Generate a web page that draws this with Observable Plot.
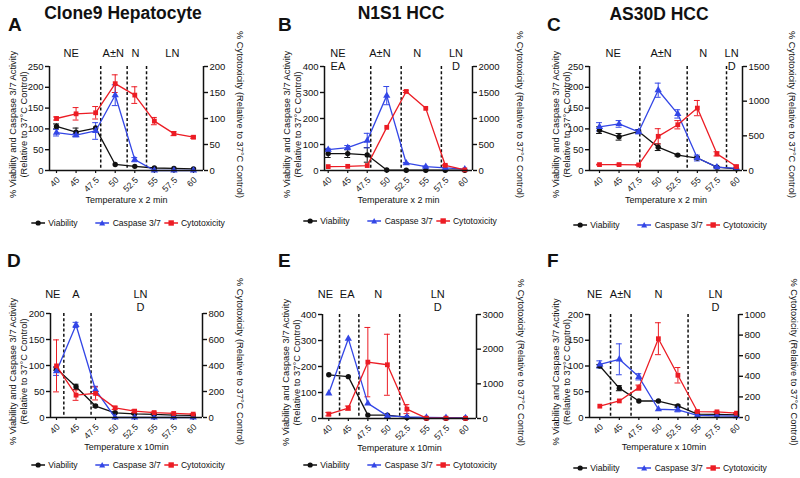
<!DOCTYPE html>
<html><head><meta charset="utf-8">
<script src="https://cdn.jsdelivr.net/npm/d3@7"></script>
<script src="https://cdn.jsdelivr.net/npm/@observablehq/plot@0.6"></script>
<style>
body{margin:0;background:#fff}
#fig{position:relative;width:800px;height:478px;overflow:hidden;font-family:"Liberation Sans",Arial,Helvetica,sans-serif;color:#111;background:#fff}
.abs{position:absolute;white-space:nowrap;line-height:1}
.letter{font-weight:bold;font-size:19px}
.title{font-weight:bold;font-size:17.5px;transform:translateX(-50%)}
.legend{display:flex;align-items:center;font-size:8.6px;height:10px;transform:translateX(-50%)}
.legend svg{margin-right:3px}
</style></head><body><div id="fig"></div>
<script>
// ---------- data ----------
const temps = ["40", "45", "47.5", "50", "52.5", "55", "57.5", "60"];
const seriesNames = ["Viability", "Caspase 3/7", "Cytotoxicity"];
const panelLetters = ["A", "B", "C", "D", "E", "F"];
const panelTitles = ["Clone9 Hepatocyte", "N1S1 HCC", "AS30D HCC", "", "", ""];
const xTitles = ["Temperature x 2 min", "Temperature x 2 min", "Temperature x 2 min",
                 "Temperature x 10min", "Temperature x 10min", "Temperature x 10min"];
const leftLabel = "% Viability and Caspase 3/7 Activity\n(Relative to 37°C Control)";
const rightLabel = "% Cytotoxicity (Relative to 37°C Control)";

// Panel A
const aViab = [106, 92, 102, 14.5, 10, 6, 5, 4];
const aViabErr = [6, 10, 0, 0, 0, 0, 0, 0];
const aCasp = [91, 85, 95, 181, 26, 0, 0, 0];
const aCaspErr = [8, 4, 20, 25, 5, 0, 0, 0];
const aCyto = [100, 109, 111, 167, 145, 95, 71, 64];
const aCytoErr = [3, 12, 12, 17, 16, 7, 4, 2];
const aLeftTicks = [0, 50, 100, 150, 200, 250];
const aRightTicks = [0, 50, 100, 150, 200];
const aDividers = [2.26, 3.61, 4.6];
const aRegions = ["NE", "A±N", "N", "LN"];
const aRegionPos = [0.75, 2.9, 4.03, 5.92];

// Panel B
const bViab = [65, 65, 60, 2, 1, 1, 1, 1];
const bViabErr = [15, 15, 28, 0, 0, 0, 0, 0];
const bCasp = [80, 88, 115, 288, 28, 15, 10, 5];
const bCaspErr = [5, 8, 28, 35, 3, 2, 0, 0];
const bCyto = [75, 80, 95, 830, 1520, 1195, 100, 12];
const bCytoErr = [0, 0, 0, 0, 20, 0, 10, 0];
const bLeftTicks = [0, 100, 200, 300, 400];
const bRightTicks = [0, 500, 1000, 1500, 2000];
const bDividers = [2.18, 3.74, 5.8];
const bRegions = ["NE\nEA", "A±N", "N", "LN\nD"];
const bRegionPos = [0.5, 2.65, 4.56, 6.55];

// Panel C
const cViab = [97, 81, 94, 56, 37, 30, 8, 4];
const cViabErr = [8, 8, 4, 8, 2, 3, 1, 1];
const cCasp = [105, 112, 93, 193, 136, 30, 8, 5];
const cCaspErr = [10, 8, 5, 17, 10, 7, 2, 1];
const cCyto = [85, 85, 80, 493, 660, 900, 240, 57];
const cCytoErr = [5, 5, 5, 110, 60, 110, 30, 10];
const cLeftTicks = [0, 50, 100, 150, 200, 250];
const cRightTicks = [0, 500, 1000, 1500];
const cDividers = [2.06, 4.48, 6.49];
const cRegions = ["NE", "A±N", "N", "LN\nD"];
const cRegionPos = [0.7, 3.15, 5.3, 6.75];

// Panel D
const dViab = [94, 59, 22, 9, 7, 6, 4.5, 4];
const dViabErr = [3, 5, 2, 1, 1, 1, 0, 0];
const dCasp = [89, 178, 53, 0, 0, 0, 0, 0];
const dCaspErr = [8, 5, 7, 0, 0, 0, 0, 0];
const dCyto = [397, 172, 185, 74, 49, 38, 31, 26];
const dCytoErr = [200, 40, 50, 12, 10, 5, 3, 3];
const dLeftTicks = [0, 50, 100, 150, 200];
const dRightTicks = [0, 200, 400, 600, 800];
const dDividers = [0.375, 1.77];
const dRegions = ["NE", "A", "LN\nD"];
const dRegionPos = [-0.19, 1.0, 4.3];

// Panel E
const eViab = [168, 161, 13, 13, 4, 1, 1, 1];
const eViabErr = [0, 0, 0, 0, 0, 0, 0, 0];
const eCasp = [97, 307, 58, 10, 6, 4, 3, 2];
const eCaspErr = [0, 0, 0, 0, 0, 0, 0, 0];
const eCyto = [126, 300, 1626, 1550, 270, 10, 8, 5];
const eCytoErr = [50, 60, 1000, 880, 130, 0, 0, 0];
const eLeftTicks = [0, 100, 200, 300, 400];
const eRightTicks = [0, 1000, 2000, 3000];
const eDividers = [0.55, 1.54, 3.63];
const eRegions = ["NE", "EA", "N", "LN\nD"];
const eRegionPos = [-0.17, 0.94, 2.53, 5.58];

// Panel F
const fViab = [100, 57, 32, 32, 22.5, 6.5, 6, 5];
const fViabErr = [3, 5, 0, 0, 2, 0, 0, 0];
const fCasp = [103, 113, 79, 16, 15, 4, 3, 2.5];
const fCaspErr = [7, 30, 6, 0, 4, 0, 0, 0];
const fCyto = [110, 161, 290, 765, 410, 58, 55, 42];
const fCytoErr = [0, 0, 25, 155, 75, 5, 5, 5];
const fLeftTicks = [0, 50, 100, 150, 200];
const fRightTicks = [0, 200, 400, 600, 800, 1000];
const fDividers = [0.55, 1.6, 4.52];
const fRegions = ["NE", "A±N", "N", "LN\nD"];
const fRegionPos = [-0.26, 1.06, 3.0, 5.92];

// ---------- layout ----------
const BLACK = "#111111", BLUE = "#3346e6", RED = "#ec1c24";
const FONT = '"Liberation Sans", Arial, Helvetica, sans-serif';

const panels = [
  {data: [aViab, aViabErr, aCasp, aCaspErr, aCyto, aCytoErr], lt: aLeftTicks, rt: aRightTicks, div: aDividers, reg: aRegions, regPos: aRegionPos,
   ox: 0, svgTop: 30, w: 265, fr: {l: 49, r: 203, t: 66, b: 170}, p40: 56, p60: 193, regDy: -19, llab: 17.5, rlab: 239,
   legCx: 128, legY: 223, letter: [8, 14.5], title: [123, 4.7]},
  {data: [bViab, bViabErr, bCasp, bCaspErr, bCyto, bCytoErr], lt: bLeftTicks, rt: bRightTicks, div: bDividers, reg: bRegions, regPos: bRegionPos,
   ox: 265, svgTop: 30, w: 265, fr: {l: 324, r: 472, t: 66, b: 170}, p40: 327.7, p60: 464.3, regDy: -19, llab: 291, rlab: 519,
   legCx: 400, legY: 221, letter: [278, 14.5], title: [401, 4.7]},
  {data: [cViab, cViabErr, cCasp, cCaspErr, cCyto, cCytoErr], lt: cLeftTicks, rt: cRightTicks, div: cDividers, reg: cRegions, regPos: cRegionPos,
   ox: 530, svgTop: 30, w: 270, fr: {l: 589, r: 742, t: 66, b: 170}, p40: 599, p60: 736, regDy: -19, llab: 560.8, rlab: 791,
   legCx: 670, legY: 225, letter: [547, 14.5], title: [659, 5.5]},
  {data: [dViab, dViabErr, dCasp, dCaspErr, dCyto, dCytoErr], lt: dLeftTicks, rt: dRightTicks, div: dDividers, reg: dRegions, regPos: dRegionPos,
   ox: 0, svgTop: 275, w: 265, fr: {l: 50, r: 202, t: 313, b: 417}, p40: 56, p60: 192.7, regDy: -25, llab: 17.5, rlab: 239,
   legCx: 128, legY: 465, letter: [7, 250.5]},
  {data: [eViab, eViabErr, eCasp, eCaspErr, eCyto, eCytoErr], lt: eLeftTicks, rt: eRightTicks, div: eDividers, reg: eRegions, regPos: eRegionPos,
   ox: 265, svgTop: 275, w: 265, fr: {l: 322, r: 476, t: 314, b: 418}, p40: 328.3, p60: 465, regDy: -26, llab: 290.8, rlab: 520,
   legCx: 400, legY: 465, letter: [278, 250.5]},
  {data: [fViab, fViabErr, fCasp, fCaspErr, fCyto, fCytoErr], lt: fLeftTicks, rt: fRightTicks, div: fDividers, reg: fRegions, regPos: fRegionPos,
   ox: 530, svgTop: 275, w: 270, fr: {l: 589, r: 738, t: 314, b: 417}, p40: 599.3, p60: 736, regDy: -26, llab: 560, rlab: 793,
   legCx: 670, legY: 468, letter: [547, 250.5]}
];

const fig = document.getElementById("fig");
const SVG_H = 180;

function addDiv(cls, html, left, top) {
  const d = document.createElement("div");
  d.className = "abs " + cls;
  d.innerHTML = html;
  d.style.left = left + "px";
  d.style.top = top + "px";
  fig.appendChild(d);
  return d;
}

function swatch(color, symbol) {
  let m;
  if (symbol === "circle") m = `<circle cx="7" cy="4" r="2.6" fill="${color}"/>`;
  else if (symbol === "triangle") m = `<polygon points="7,1 10,6.5 4,6.5" fill="${color}"/>`;
  else m = `<rect x="4.3" y="1.3" width="5.4" height="5.4" fill="${color}"/>`;
  return `<svg width="14" height="8"><line x1="0" y1="4" x2="14" y2="4" stroke="${color}" stroke-width="1.3"/>${m}</svg>`;
}

panels.forEach((c, pi) => {
  const fr = c.fr;
  const u = (c.p60 - c.p40) / 7;
  const xmin = -(c.p40 - fr.l) / u, xmax = 7 + (fr.r - c.p60) / u;
  const lmax = c.lt[c.lt.length - 1], rmax = c.rt[c.rt.length - 1];
  const f = lmax / rmax;
  const idx = d3.range(temps.length);
  const [viab, viabErr, casp, caspErr, cyto, cytoErr] = c.data;
  const series = [
    {v: viab, e: viabErr, color: BLACK, symbol: "circle", k: 1},
    {v: casp, e: caspErr, color: BLUE, symbol: "triangle", k: 1},
    {v: cyto, e: cytoErr, color: RED, symbol: "square", k: f}
  ];
  const marks = [
    Plot.ruleX(c.div, {stroke: BLACK, strokeWidth: 1.5, strokeDasharray: "3,2.2"}),
    Plot.axisX(idx, {anchor: "bottom", tickFormat: () => "", tickSize: 3, label: null, strokeWidth: 1.2}),
    Plot.text(idx, {x: i => i, text: i => temps[i], frameAnchor: "bottom", rotate: -45, textAnchor: "end",
      lineAnchor: "middle", dx: 2, dy: 8, fontSize: 8.8, fill: "#222"}),
    Plot.axisY(c.lt, {anchor: "left", tickSize: 4, tickPadding: 2, label: null, fontSize: 9.5, strokeWidth: 1.4}),
    Plot.axisY(c.rt.map(t => t * f), {anchor: "right", tickSize: 4, tickPadding: 2, label: null, fontSize: 9.5, strokeWidth: 1.4,
      tickFormat: d => String(Math.round(d / f))}),
  ];
  for (const s of series) {
    const ei = idx.filter(i => s.e[i] > 0);
    const lo = i => Math.max(0, s.v[i] - s.e[i]) * s.k;
    const hi = i => (s.v[i] + s.e[i]) * s.k;
    marks.push(Plot.ruleX(ei, {x: i => i, y1: lo, y2: hi, stroke: s.color, strokeWidth: 1}));
    const caps = ei.flatMap(i => [{i, y: lo(i)}, {i, y: hi(i)}]);
    marks.push(Plot.ruleY(caps, {y: "y", x1: d => d.i - 0.15, x2: d => d.i + 0.15, stroke: s.color, strokeWidth: 1}));
  }
  for (const s of series) {
    marks.push(Plot.line(idx, {x: i => i, y: i => s.v[i] * s.k, stroke: s.color, strokeWidth: 1.3}));
    marks.push(Plot.dot(idx, {x: i => i, y: i => s.v[i] * s.k, symbol: s.symbol, fill: s.color, r: 2.7}));
  }
  marks.push(
    Plot.ruleX([xmin, xmax], {stroke: BLACK, strokeWidth: 1.5}),
    Plot.ruleY([0], {stroke: BLACK, strokeWidth: 1.5}),
    Plot.text(d3.range(c.reg.length), {x: i => c.regPos[i], text: i => c.reg[i], frameAnchor: "top", lineAnchor: "top",
      dy: c.regDy, fontSize: 11, lineHeight: 1.2, fill: BLACK}),
    Plot.text([leftLabel], {text: d => d, frameAnchor: "left", rotate: -90, dx: c.llab - fr.l, dy: 6,
      fontSize: 9.3, lineHeight: 1.2, lineAnchor: "middle", textAnchor: "middle", fill: BLACK}),
    Plot.text([rightLabel], {text: d => d, frameAnchor: "right", rotate: 90, dx: c.rlab - fr.r, dy: -4,
      fontSize: 9.3, lineAnchor: "middle", textAnchor: "middle", fill: BLACK}),
    Plot.text([xTitles[pi]], {text: d => d, frameAnchor: "bottom", dy: 30, fontSize: 9, lineAnchor: "middle", fill: BLACK})
  );
  const svg = Plot.plot({
    width: c.w, height: SVG_H,
    marginLeft: fr.l - c.ox, marginRight: c.ox + c.w - fr.r,
    marginTop: fr.t - c.svgTop, marginBottom: c.svgTop + SVG_H - fr.b,
    x: {domain: [xmin, xmax]},
    y: {domain: [0, lmax]},
    style: {fontFamily: FONT, fontSize: "9.5px", color: BLACK, background: "transparent", overflow: "visible"},
    marks
  });
  svg.style.position = "absolute";
  svg.style.left = c.ox + "px";
  svg.style.top = c.svgTop + "px";
  fig.appendChild(svg);

  addDiv("letter", panelLetters[pi], c.letter[0], c.letter[1]);
  if (panelTitles[pi]) addDiv("title", panelTitles[pi], c.title[0], c.title[1]);
  addDiv("legend",
    `${swatch(BLACK, "circle")}<span style="margin-right:18px">${seriesNames[0]}</span>` +
    `${swatch(BLUE, "triangle")}<span style="margin-right:3px">${seriesNames[1]}</span>` +
    `${swatch(RED, "square")}<span>${seriesNames[2]}</span>`, c.legCx, c.legY - 5);
});
</script>
</body></html>
